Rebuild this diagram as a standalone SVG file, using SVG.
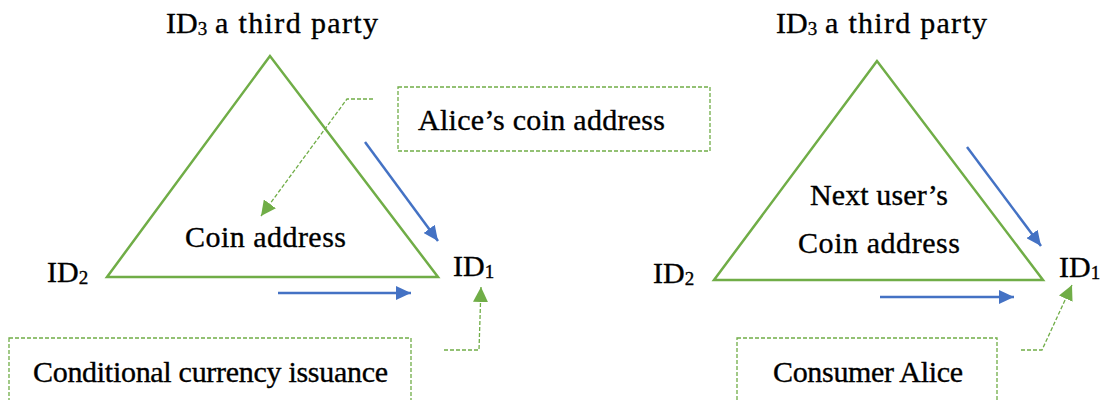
<svg xmlns="http://www.w3.org/2000/svg" width="1103" height="400" viewBox="0 0 1103 400">
  <style>
    .lbl { font-family: "Liberation Serif", "Times New Roman", serif; font-size: 30px; fill: #000; stroke: #000; stroke-width: 0.35; }
    .sub { font-size: 19px; }
    .tri { fill: none; stroke: #70AD47; stroke-width: 2.5; stroke-linejoin: miter; }
    .box { fill: none; stroke: #70AD47; stroke-width: 1.3; stroke-dasharray: 4 2; }
    .lead { fill: none; stroke: #70AD47; stroke-width: 1.3; stroke-dasharray: 4 2; }
    .flow { fill: none; stroke: #4472C4; stroke-width: 2.5; }
  </style>
  <defs>
    <marker id="blueHead" markerWidth="15" markerHeight="14" refX="15" refY="7" orient="auto" markerUnits="userSpaceOnUse" viewBox="0 0 15 14">
      <path d="M0,0 L15,7 L0,14 Z" fill="#4472C4"/>
    </marker>
    <marker id="greenHead" markerWidth="15" markerHeight="15" refX="15" refY="7.5" orient="auto" markerUnits="userSpaceOnUse" viewBox="0 0 15 15">
      <path d="M0,0 L15,7.5 L0,15 Z" fill="#70AD47"/>
    </marker>
  </defs>

  <!-- left scheme -->
  <g id="left-triangle">
    <polygon class="tri" points="270,56 107,277 438,277"/>
    <text class="lbl" x="185" y="247" textLength="161">Coin address</text>
  </g>
  <g id="left-id3">
    <text class="lbl" x="166" y="33">ID<tspan class="sub" dy="2">3</tspan></text>
    <text class="lbl" x="215" y="33" textLength="163">a third party</text>
  </g>
  <g id="left-id2">
    <text class="lbl" x="47" y="282">ID<tspan class="sub" dy="2">2</tspan></text>
  </g>
  <g id="left-id1">
    <text class="lbl" x="453" y="276">ID<tspan class="sub" dy="2">1</tspan></text>
  </g>
  <g id="left-note-alice">
    <rect class="box" x="398" y="87" width="312" height="64"/>
    <text class="lbl" x="418" y="130" textLength="247">Alice’s coin address</text>
  </g>
  <g id="left-note-issuance">
    <rect class="box" x="9" y="338" width="402" height="80"/>
    <text class="lbl" x="33" y="382" textLength="355">Conditional currency issuance</text>
  </g>

  <!-- right scheme -->
  <g id="right-triangle">
    <polygon class="tri" points="877,61 714,280 1043,280"/>
    <text class="lbl" x="810" y="205" textLength="138">Next user’s</text>
    <text class="lbl" x="798" y="253" textLength="162">Coin address</text>
  </g>
  <g id="right-id3">
    <text class="lbl" x="776" y="33">ID<tspan class="sub" dy="2">3</tspan></text>
    <text class="lbl" x="825" y="33" textLength="162">a third party</text>
  </g>
  <g id="right-id2">
    <text class="lbl" x="653" y="283">ID<tspan class="sub" dy="2">2</tspan></text>
  </g>
  <g id="right-id1">
    <text class="lbl" x="1059" y="277">ID<tspan class="sub" dy="2">1</tspan></text>
  </g>
  <g id="right-note-alice">
    <rect class="box" x="737" y="338" width="260" height="80"/>
    <text class="lbl" x="773" y="382" textLength="190">Consumer Alice</text>
  </g>

  <!-- connectors -->
  <g id="connectors">
    <line class="flow" x1="365" y1="142" x2="438" y2="241" marker-end="url(#blueHead)"/>
    <line class="flow" x1="278" y1="293" x2="411" y2="293" marker-end="url(#blueHead)"/>
    <polyline class="lead" points="373,99 347,99 261,216" marker-end="url(#greenHead)"/>
    <polyline class="lead" points="444,350 479,350 481,287" marker-end="url(#greenHead)"/>

    <line class="flow" x1="967" y1="147" x2="1041" y2="246" marker-end="url(#blueHead)"/>
    <line class="flow" x1="880" y1="297" x2="1014" y2="297" marker-end="url(#blueHead)"/>
    <polyline class="lead" points="1021,350 1042,350 1072,285" marker-end="url(#greenHead)"/>
  </g>
</svg>
